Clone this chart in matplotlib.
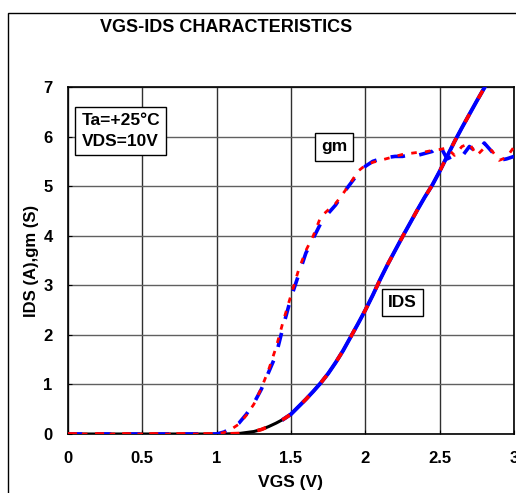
import numpy as np
import matplotlib.pyplot as plt
from matplotlib.patches import Rectangle

plt.rcParams['font.family'] = ['Liberation Sans', 'DejaVu Sans']
plt.rcParams['font.weight'] = 'bold'

# --- données ---
vgs_lo = [0.0, 0.25, 0.5, 0.75, 1.0]
vgs_hi = [1.05, 1.1, 1.15, 1.2, 1.25, 1.3, 1.35, 1.4, 1.45, 1.5, 1.55, 1.6, 1.65,
          1.7, 1.75, 1.8, 1.85, 1.9, 1.95, 2.0, 2.05, 2.1, 2.15, 2.2, 2.25, 2.3,
          2.35, 2.4, 2.45, 2.5, 2.55, 2.6, 2.65, 2.7, 2.75, 2.8, 2.85, 2.9, 2.95, 3.0]
vgs = vgs_lo + vgs_hi

ids = [0, 0, 0, 0, 0,
       0, 0.005, 0.01, 0.03, 0.05, 0.09, 0.15, 0.22, 0.3, 0.4, 0.55, 0.7, 0.86,
       1.03, 1.22, 1.44, 1.68, 1.95, 2.22, 2.5, 2.8, 3.12, 3.42, 3.7, 3.98, 4.25,
       4.52, 4.78, 5.02, 5.3, 5.6, 5.9, 6.18, 6.45, 6.72, 6.98, 7.25, 7.5, 7.75, 8.0]

gm_red = [0, 0, 0, 0, 0,
          0.03, 0.1, 0.2, 0.38, 0.6, 0.92, 1.3, 1.75, 2.3, 2.8, 3.3, 3.7, 4.0,
          4.38, 4.52, 4.65, 4.85, 5.06, 5.3, 5.42, 5.48, 5.52, 5.56, 5.6, 5.64, 5.66,
          5.68, 5.69, 5.72, 5.74, 5.77, 5.62, 5.8, 5.86, 5.62, 5.77, 5.72, 5.52, 5.58, 5.79]

gm_blue = [0, 0, 0, 0, 0,
           0.04, 0.12, 0.22, 0.4, 0.62, 0.9, 1.25, 1.6, 2.2, 2.75, 3.2, 3.65, 3.95,
           4.25, 4.45, 4.62, 4.85, 5.05, 5.25, 5.4, 5.5, 5.55, 5.58, 5.6, 5.6, 5.63,
           5.62, 5.66, 5.7, 5.83, 5.55, 5.62, 5.6, 5.8, 5.68, 5.87, 5.7, 5.52, 5.55, 5.6]

x_ticks = [0, 0.5, 1, 1.5, 2, 2.5, 3]
x_tick_labels = ['0', '0.5', '1', '1.5', '2', '2.5', '3']
y_ticks = [0, 1, 2, 3, 4, 5, 6, 7]

fig = plt.figure(figsize=(5.16, 4.93), dpi=100)
ax = fig.add_axes([68 / 516, 59 / 493, 446 / 516, 347 / 493])

# cadre extérieur
fig.patches.append(Rectangle((8 / 516, -0.1), 1.2, (480 / 493) + 0.1,
                             transform=fig.transFigure, fill=False,
                             edgecolor='black', linewidth=1.0))

vgs_a = np.array(vgs)
ids_a = np.array(ids)
ax.plot(vgs_a, ids_a, color='black', lw=2.2, zorder=3)
m = vgs_a >= 1.45
ax.plot(vgs_a[m], ids_a[m], color='blue', lw=2.8, zorder=4)
ax.plot(vgs_a, ids_a, color='red', lw=2.6, ls=(0, (2.5, 5)), zorder=5)

ax.plot(vgs, gm_blue, color='blue', lw=2.6, ls=(0, (4, 4)), zorder=4)
ax.plot(vgs, gm_red, color='red', lw=2.0, ls=(0, (2, 3)), zorder=5)

ax.set_xlim(0, 3)
ax.set_ylim(0, 7)
ax.set_xticks(x_ticks)
ax.set_xticklabels(x_tick_labels)
ax.set_yticks(y_ticks)
ax.tick_params(axis='both', direction='in', length=3, labelsize=12)
ax.tick_params(axis='x', pad=12)
ax.tick_params(axis='y', pad=11)
ax.grid(True, axis='x', color='#303030', lw=1.0)
ax.grid(True, axis='y', color='#606060', lw=1.0)
for s in ax.spines.values():
    s.set_linewidth(1.2)

ax.set_xlabel('VGS (V)', fontsize=12.5, fontweight='bold', labelpad=7)
ax.set_ylabel('IDS (A),gm (S)', fontsize=12, fontweight='bold', labelpad=3)
fig.text(100 / 516, 1 - 27 / 493, 'VGS-IDS CHARACTERISTICS', fontsize=13,
         fontweight='bold', va='center', ha='left')

box = dict(boxstyle='square,pad=0.35', facecolor='white', edgecolor='black', lw=1.0)
ax.text(0.09, 6.47, 'Ta=+25°C\nVDS=10V', fontsize=12.5, fontweight='bold',
        va='top', ha='left', bbox=box, linespacing=1.45, zorder=6)
ax.text(1.79, 5.79, 'gm', fontsize=12.5, fontweight='bold', va='center',
        ha='center', bbox=box, zorder=6)
ax.text(2.25, 2.66, 'IDS', fontsize=12.5, fontweight='bold', va='center',
        ha='center', bbox=box, zorder=6)

fig.savefig('out.png', dpi=100)
